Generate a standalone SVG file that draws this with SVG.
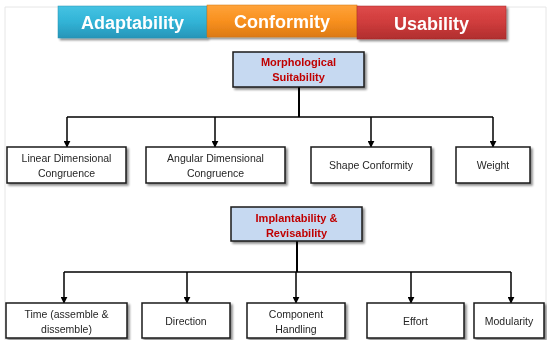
<svg xmlns="http://www.w3.org/2000/svg" width="547" height="340" viewBox="0 0 547 340">
  <defs>
    <linearGradient id="gBlue" x1="0" y1="0" x2="0" y2="1">
      <stop offset="0" stop-color="#45c3e3"/>
      <stop offset="0.5" stop-color="#31b3d6"/>
      <stop offset="1" stop-color="#2795b8"/>
    </linearGradient>
    <linearGradient id="gOrange" x1="0" y1="0" x2="0" y2="1">
      <stop offset="0" stop-color="#ffa33a"/>
      <stop offset="0.5" stop-color="#f8901f"/>
      <stop offset="1" stop-color="#dc7a14"/>
    </linearGradient>
    <linearGradient id="gRed" x1="0" y1="0" x2="0" y2="1">
      <stop offset="0" stop-color="#de4a4a"/>
      <stop offset="0.5" stop-color="#cf3c3c"/>
      <stop offset="1" stop-color="#b02e2e"/>
    </linearGradient>
    <filter id="shadow" x="-10%" y="-10%" width="125%" height="140%">
      <feGaussianBlur in="SourceAlpha" stdDeviation="1"/>
      <feOffset dx="1.5" dy="1.5" result="b"/>
      <feComponentTransfer><feFuncA type="linear" slope="0.45"/></feComponentTransfer>
      <feMerge><feMergeNode/><feMergeNode in="SourceGraphic"/></feMerge>
    </filter>
    <marker id="arrow" viewBox="0 0 10 10" refX="9" refY="5" markerWidth="7" markerHeight="7" markerUnits="userSpaceOnUse" orient="auto">
      <path d="M0,0 L10,5 L0,10 Z" fill="#000"/>
    </marker>
    <style>
      .hdr { font-family: "Liberation Sans", Arial, sans-serif; font-weight: bold; font-size: 18px; fill: #ffffff; text-anchor: middle; }
      .cat { fill: #c6d9f1; stroke: #1a1a1a; stroke-width: 1.5; }
      .catText { font-family: "Liberation Sans", Arial, sans-serif; font-weight: bold; font-size: 11px; fill: #c00000; text-anchor: middle; }
      .item { fill: #ffffff; stroke: #1a1a1a; stroke-width: 1.5; }
      .itemText { font-family: "Liberation Sans", Arial, sans-serif; font-size: 10.5px; fill: #262626; text-anchor: middle; }
      .wire { fill: none; stroke: #000; stroke-width: 1.5; }
      .stem { fill: none; stroke: #000; stroke-width: 2; }
    </style>
  </defs>

  <rect width="547" height="340" fill="#ffffff"/>
  <!-- faint page frame -->
  <path d="M5,340 V7 H546 V340" fill="none" stroke="#e6e6e6" stroke-width="1"/>

  <!-- header bands -->
  <g id="adaptability" filter="url(#shadow)">
    <rect x="58" y="6" width="149" height="32" fill="url(#gBlue)" stroke="#2a8fb0" stroke-width="0.5"/>
    <text class="hdr" x="132.5" y="29">Adaptability</text>
  </g>
  <g id="conformity" filter="url(#shadow)">
    <rect x="207" y="5" width="150" height="32" fill="url(#gOrange)" stroke="#d07515" stroke-width="0.5"/>
    <text class="hdr" x="282" y="28">Conformity</text>
  </g>
  <g id="usability" filter="url(#shadow)">
    <rect x="357" y="6" width="149" height="33" fill="url(#gRed)" stroke="#a82a2a" stroke-width="0.5"/>
    <text class="hdr" x="431.5" y="29.5">Usability</text>
  </g>

  <!-- connectors -->
  <g id="connectors">
    <path class="stem" d="M299,87 V117"/>
    <path class="wire" d="M67,117 H493"/>
    <path class="wire" d="M67,117 V147" marker-end="url(#arrow)"/>
    <path class="wire" d="M215,117 V147" marker-end="url(#arrow)"/>
    <path class="wire" d="M371,117 V147" marker-end="url(#arrow)"/>
    <path class="wire" d="M493,117 V147" marker-end="url(#arrow)"/>

    <path class="stem" d="M297,241 V272"/>
    <path class="wire" d="M64,272 H511"/>
    <path class="wire" d="M64,272 V303" marker-end="url(#arrow)"/>
    <path class="wire" d="M187,272 V303" marker-end="url(#arrow)"/>
    <path class="wire" d="M296,272 V303" marker-end="url(#arrow)"/>
    <path class="wire" d="M411,272 V303" marker-end="url(#arrow)"/>
    <path class="wire" d="M511,272 V303" marker-end="url(#arrow)"/>
  </g>

  <!-- first group -->
  <g id="morphological-suitability" filter="url(#shadow)">
    <rect class="cat" x="233" y="52" width="131" height="35"/>
    <text class="catText" x="298.5" y="65.5">Morphological</text>
    <text class="catText" x="298.5" y="81">Suitability</text>
  </g>
  <g id="linear-dimensional-congruence" filter="url(#shadow)">
    <rect class="item" x="7" y="147" width="119" height="36"/>
    <text class="itemText" x="66.5" y="162">Linear Dimensional</text>
    <text class="itemText" x="66.5" y="176.5">Congruence</text>
  </g>
  <g id="angular-dimensional-congruence" filter="url(#shadow)">
    <rect class="item" x="146" y="147" width="139" height="36"/>
    <text class="itemText" x="215.5" y="162">Angular Dimensional</text>
    <text class="itemText" x="215.5" y="176.5">Congruence</text>
  </g>
  <g id="shape-conformity" filter="url(#shadow)">
    <rect class="item" x="311" y="147" width="120" height="36"/>
    <text class="itemText" x="371" y="169">Shape Conformity</text>
  </g>
  <g id="weight" filter="url(#shadow)">
    <rect class="item" x="456" y="147" width="74" height="36"/>
    <text class="itemText" x="493" y="169">Weight</text>
  </g>

  <!-- second group -->
  <g id="implantability-revisability" filter="url(#shadow)">
    <rect class="cat" x="231" y="207" width="131" height="34"/>
    <text class="catText" x="296.5" y="221.5">Implantability &amp;</text>
    <text class="catText" x="296.5" y="236.5">Revisability</text>
  </g>
  <g id="time" filter="url(#shadow)">
    <rect class="item" x="6" y="303" width="121" height="35"/>
    <text class="itemText" x="66.5" y="318">Time (assemble &amp;</text>
    <text class="itemText" x="66.5" y="332.5">dissemble)</text>
  </g>
  <g id="direction" filter="url(#shadow)">
    <rect class="item" x="142" y="303" width="88" height="35"/>
    <text class="itemText" x="186" y="325">Direction</text>
  </g>
  <g id="component-handling" filter="url(#shadow)">
    <rect class="item" x="247" y="303" width="98" height="35"/>
    <text class="itemText" x="296" y="318">Component</text>
    <text class="itemText" x="296" y="332.5">Handling</text>
  </g>
  <g id="effort" filter="url(#shadow)">
    <rect class="item" x="367" y="303" width="97" height="35"/>
    <text class="itemText" x="415.5" y="325">Effort</text>
  </g>
  <g id="modularity" filter="url(#shadow)">
    <rect class="item" x="474" y="303" width="70" height="35"/>
    <text class="itemText" x="509" y="325">Modularity</text>
  </g>
</svg>
